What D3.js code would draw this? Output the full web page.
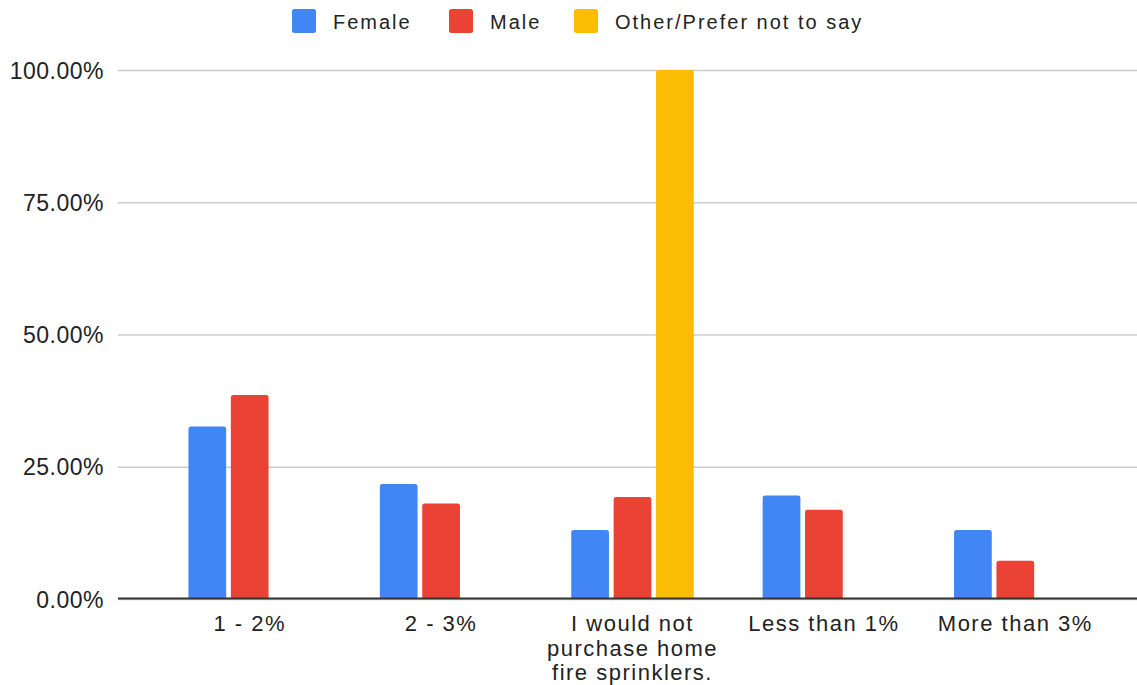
<!DOCTYPE html>
<html>
<head>
<meta charset="utf-8">
<script src="https://cdn.jsdelivr.net/npm/d3@7"></script>
<style>
  html, body { margin: 0; padding: 0; background: #fff; }
  svg { display: block; font-family: "Liberation Sans", Arial, sans-serif; }
</style>
</head>
<body>
<svg id="chart" width="1137" height="685"></svg>
<script>
// Survey responses: share of each gender group choosing each price-premium answer
const categories = ["1 - 2%", "2 - 3%", "I would not purchase home fire sprinklers.", "Less than 1%", "More than 3%"];
const seriesNames = ["Female", "Male", "Other/Prefer not to say"];
const female = [32.61, 21.74, 13.04, 19.57, 13.04];
const male = [38.55, 18.07, 19.28, 16.87, 7.23];
const other = [0, 0, 100, 0, 0];
const seriesColors = ["#4285F4", "#EA4335", "#FBBC04"];
const yTicks = [0, 25, 50, 75, 100];

const seriesValues = [female, male, other];
const rows = categories.map((c, i) => ({
  category: c,
  values: seriesNames.map((s, j) => ({ series: s, value: seriesValues[j][i], color: seriesColors[j] }))
}));

const svg = d3.select("#chart");
const plotLeft = 118, plotRight = 1137, plotTop = 70, plotBottom = 599;

const x0 = d3.scaleBand().domain(categories).range([154, 1111]).paddingInner(0.36).paddingOuter(0.18);
const x1 = d3.scaleBand().domain(seriesNames).range([0, x0.bandwidth()]).paddingInner(0.11).paddingOuter(0);
const y = d3.scaleLinear().domain([0, 100]).range([plotBottom, plotTop]);

// Gridlines and y tick labels
const yAxis = svg.append("g")
  .attr("transform", `translate(${plotLeft},0)`)
  .call(d3.axisLeft(y).tickValues(yTicks).tickSize(-(plotRight - plotLeft)).tickPadding(14)
    .tickFormat(d => d.toFixed(2) + "%"));
yAxis.select(".domain").remove();
yAxis.selectAll(".tick line").attr("stroke", "#cccccc").attr("stroke-width", 1.5);
yAxis.selectAll(".tick text")
  .attr("fill", "#222")
  .attr("font-size", 23)
  .attr("letter-spacing", 0.5)
  .attr("dy", null)
  .attr("y", 8);

// Bars with slightly rounded tops
function barPath(x, yTop, w, yBase, r) {
  const h = yBase - yTop;
  if (h <= 0) return "";
  r = Math.min(r, h, w / 2);
  return `M${x},${yBase}V${yTop + r}Q${x},${yTop} ${x + r},${yTop}H${x + w - r}Q${x + w},${yTop} ${x + w},${yTop + r}V${yBase}Z`;
}

const groups = svg.append("g").selectAll("g")
  .data(rows).join("g")
  .attr("transform", d => `translate(${x0(d.category)},0)`);

groups.selectAll("path")
  .data(d => d.values.filter(v => v.value > 0))
  .join("path")
  .attr("fill", d => d.color)
  .attr("d", d => barPath(x1(d.series), y(d.value), x1.bandwidth(), y(0), 2.5));

// Baseline
svg.append("line")
  .attr("x1", plotLeft).attr("x2", plotRight)
  .attr("y1", y(0) - 0.5).attr("y2", y(0) - 0.5)
  .attr("stroke", "#333").attr("stroke-width", 2);

// Category labels, wrapped to fit under each group
const xLabels = svg.append("g").selectAll("text")
  .data(categories).join("text")
  .attr("x", d => x0(d) + x0.bandwidth() / 2)
  .attr("y", 631)
  .attr("text-anchor", "middle")
  .attr("font-size", 22)
  .attr("letter-spacing", 1.5)
  .attr("fill", "#222")
  .each(function (d) {
    const text = d3.select(this);
    const words = d.split(/\s+/);
    const cx = +text.attr("x");
    let line = [];
    let lineNo = 0;
    let tspan = text.append("tspan").attr("x", cx).attr("dy", 0);
    words.forEach(w => {
      line.push(w);
      tspan.text(line.join(" "));
      if (tspan.node().getComputedTextLength() > 180 && line.length > 1) {
        line.pop();
        tspan.text(line.join(" "));
        line = [w];
        lineNo++;
        tspan = text.append("tspan").attr("x", cx).attr("dy", 24.5).text(w);
      }
    });
  });

// Legend
const legendItems = [
  { name: seriesNames[0], color: seriesColors[0], x: 292 },
  { name: seriesNames[1], color: seriesColors[1], x: 449 },
  { name: seriesNames[2], color: seriesColors[2], x: 574 }
];
const legend = svg.append("g").selectAll("g")
  .data(legendItems).join("g")
  .attr("transform", d => `translate(${d.x},9)`);
legend.append("rect")
  .attr("width", 24).attr("height", 24).attr("rx", 2.5)
  .attr("fill", d => d.color);
legend.append("text")
  .attr("x", 41).attr("y", 19.5)
  .attr("font-size", 20)
  .attr("letter-spacing", 2)
  .attr("fill", "#222")
  .text(d => d.name);
</script>
</body>
</html>
